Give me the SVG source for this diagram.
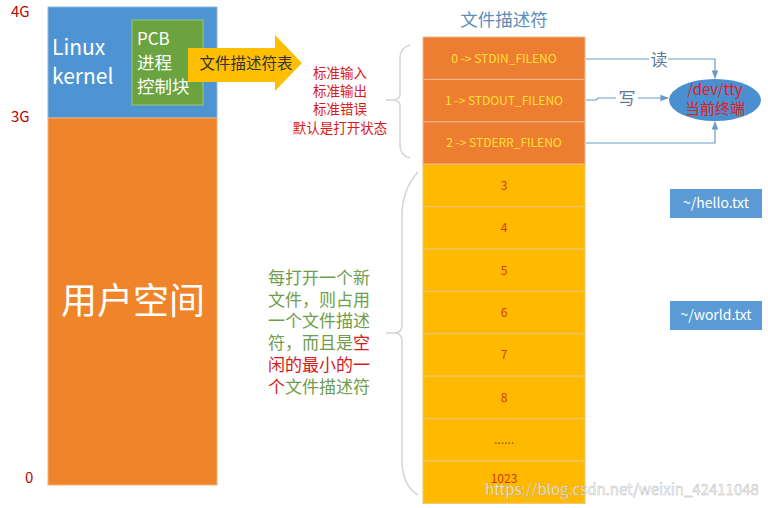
<svg xmlns="http://www.w3.org/2000/svg" width="768" height="508" viewBox="0 0 768 508">
<style>
text{font-family:"Noto Sans CJK SC","Open Sans","Liberation Sans",sans-serif}
.axis{fill:#C00000;font-size:15px}
.w{fill:#fff}
.orow{fill:#ED7D31;stroke:#F2B88F;stroke-width:1}
.yrow{fill:#FFBA00;stroke:#EBC57A;stroke-width:1}
.otxt{fill:#FFE033;font-size:12px;text-anchor:middle}
.ytxt{fill:#D2380C;font-size:12px;text-anchor:middle}
.red{fill:#D91A1A;font-size:13.5px;text-anchor:middle}
.grn{fill:#6E9D4B;font-size:17px}
.hl{fill:#D91A1A}
.brace{fill:none;stroke:#D4D4D4;stroke-width:1.5}
.conn{fill:none;stroke:#6A9AC4;stroke-width:1.2}
.lbl{fill:#5A7A9A;font-size:17px;text-anchor:middle}
.file{fill:#5B9BD5}
.ftxt{fill:#fff;font-size:14px;text-anchor:middle}
</style>
<defs>
<marker id="ah" viewBox="0 0 10 10" refX="9" refY="5" markerWidth="7" markerHeight="7" orient="auto"><path d="M0,1 L10,5 L0,9 z" fill="#6A9AC4"/></marker>
</defs>
<rect width="768" height="508" fill="#fff"/>

<g id="axis-labels">
<text class="axis" x="11" y="17">4G</text>
<text class="axis" x="11" y="122">3G</text>
<text class="axis" x="25" y="483">0</text>
</g>

<g id="kernel">
<rect x="48" y="7" width="169" height="111" fill="#4E94D3" stroke="#8DB8E0" stroke-width="1"/>
<text class="w" font-size="21"><tspan x="52" y="55">Linux</tspan><tspan x="52" y="84">kernel</tspan></text>
</g>

<g id="user-space">
<rect x="48" y="118" width="169" height="367" fill="#F0842A" stroke="#F2B07A" stroke-width="1"/>
<text class="w" x="133" y="314" font-size="36" text-anchor="middle">用户空间</text>
</g>

<g id="pcb">
<rect x="132" y="20" width="71" height="85" fill="#6BA340" stroke="#9CC47A" stroke-width="1"/>
<text class="w" font-size="17.5"><tspan x="137" y="45" font-size="17">PCB</tspan><tspan x="137" y="69">进程</tspan><tspan x="137" y="93">控制块</tspan></text>
</g>

<g id="fd-table-arrow">
<path d="M188,48 L275,48 L275,35 L302,63 L275,91 L275,82 L188,82 z" fill="#FFBE00"/>
<text x="246" y="68.5" font-size="15.5" fill="#333" text-anchor="middle">文件描述符表</text>
</g>

<g id="std-note">
<text class="red"><tspan x="340" y="78">标准输入</tspan><tspan x="340" y="96">标准输出</tspan><tspan x="340" y="114">标准错误</tspan><tspan x="340" y="133">默认是打开状态</tspan></text>
</g>

<g id="fd-title">
<text x="504" y="26" font-size="17.5" fill="#5B8DB8" text-anchor="middle">文件描述符</text>
</g>

<g id="fd-table">
<rect class="orow" x="423" y="37" width="162" height="42.4"/>
<rect class="orow" x="423" y="79.4" width="162" height="42.4"/>
<rect class="orow" x="423" y="121.8" width="162" height="42.4"/>
<rect class="yrow" x="423" y="164.2" width="162" height="42.4"/>
<rect class="yrow" x="423" y="206.6" width="162" height="42.4"/>
<rect class="yrow" x="423" y="249" width="162" height="42.4"/>
<rect class="yrow" x="423" y="291.4" width="162" height="42.4"/>
<rect class="yrow" x="423" y="333.8" width="162" height="42.4"/>
<rect class="yrow" x="423" y="376.2" width="162" height="42.4"/>
<rect class="yrow" x="423" y="418.6" width="162" height="42.4"/>
<rect class="yrow" x="423" y="461" width="162" height="42.4"/>
<text class="otxt" x="504" y="63">0 -&gt; STDIN_FILENO</text>
<text class="otxt" x="504" y="105">1 -&gt; STDOUT_FILENO</text>
<text class="otxt" x="504" y="147">2 -&gt; STDERR_FILENO</text>
<text class="ytxt" x="504" y="190">3</text>
<text class="ytxt" x="504" y="232">4</text>
<text class="ytxt" x="504" y="275">5</text>
<text class="ytxt" x="504" y="317">6</text>
<text class="ytxt" x="504" y="359">7</text>
<text class="ytxt" x="504" y="402">8</text>
<text class="ytxt" x="504" y="444" style="fill:#8A5A10">......</text>
<text class="ytxt" x="504" y="483">1023</text>
</g>

<g id="braces">
<path class="brace" d="M410,45 Q400,48 400,58 L400,94 Q400,100 392,100 L386,100 M392,100 Q400,100 400,106 L400,146 Q400,155 410,158"/>
<path class="brace" d="M418,172 Q402,190 402,215 L402,325 Q402,333 394,333 L386,333 M394,333 Q402,333 402,341 L402,460 Q402,485 418,495"/>
</g>

<g id="new-file-note">
<text class="grn"><tspan x="268" y="284">每打开一个新</tspan><tspan x="268" y="306">文件，则占用</tspan><tspan x="268" y="327">一个文件描述</tspan><tspan x="268" y="349">符，而且是</tspan><tspan class="hl">空</tspan><tspan class="hl" x="268" y="371">闲的最小的一</tspan><tspan class="hl" x="268" y="393">个</tspan><tspan>文件描述符</tspan></text>
</g>

<g id="tty">
<ellipse cx="715" cy="100" rx="46" ry="21" fill="#4A8FD0"/>
<text font-size="15" fill="#E0201A" text-anchor="middle"><tspan x="715" y="95">/dev/tty</tspan><tspan x="715" y="114">当前终端</tspan></text>
</g>

<g id="connectors">
<path class="conn" d="M586,59 L649,59 M668,59 L715,59 L715,78" marker-end="url(#ah)"/>
<path class="conn" d="M586,100 L596,100 L598,98 L616,98 M638,98 L668,98" marker-end="url(#ah)"/>
<path class="conn" d="M586,143 L715,143 L715,122" marker-end="url(#ah)"/>
<text class="lbl" x="659" y="66">读</text>
<text class="lbl" x="627" y="105">写</text>
</g>

<g id="hello">
<rect class="file" x="670" y="189" width="92" height="29"/>
<text class="ftxt" x="716" y="208">~/hello.txt</text>
</g>

<g id="world">
<rect class="file" x="670" y="301" width="92" height="29"/>
<text class="ftxt" x="716" y="320">~/world.txt</text>
</g>

<g id="watermark">
<text x="622" y="495" font-family="Liberation Sans, sans-serif" font-size="15" fill="#fff" fill-opacity="0.85" stroke="#999" stroke-width="0.5" stroke-opacity="0.7" text-anchor="middle">https://blog.csdn.net/weixin_42411048</text>
</g>
</svg>
